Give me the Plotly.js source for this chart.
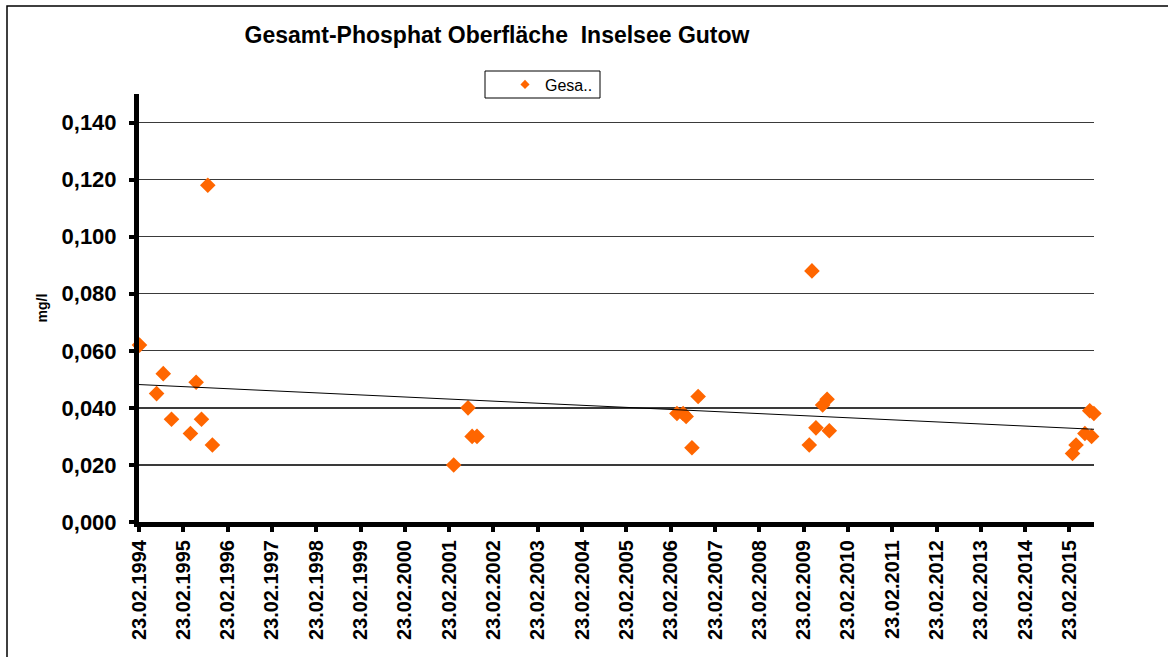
<!DOCTYPE html>
<html>
<head>
<meta charset="utf-8">
<script src="https://cdn.plot.ly/plotly-3.0.1.min.js"></script>
<style>
  html, body { margin: 0; padding: 0; background: #ffffff; }
  #chart { width: 1168px; height: 657px; }
</style>
</head>
<body>
<div id="chart"></div>
<script>
// ---- data ----
const sampleDates = [
  '1994-02-27','1994-07-18','1994-09-11','1994-11-18','1995-04-23','1995-06-09','1995-07-23','1995-09-13','1995-10-21',
  '2001-04-01','2001-07-28','2001-08-31','2001-10-10',
  '2006-04-15','2006-06-05','2006-06-30','2006-08-17','2006-10-07',
  '2009-04-10','2009-05-02','2009-06-04','2009-07-29','2009-09-04','2009-09-22',
  '2015-03-20','2015-04-18','2015-06-30','2015-08-09','2015-08-24','2015-09-12'
];
const phosphatValues = [
  0.062,0.045,0.052,0.036,0.031,0.049,0.036,0.118,0.027,
  0.020,0.040,0.030,0.030,
  0.038,0.038,0.037,0.026,0.044,
  0.027,0.088,0.033,0.041,0.043,0.032,
  0.024,0.027,0.031,0.039,0.030,0.038
];
const tickLabels = [
  '23.02.1994','23.02.1995','23.02.1996','23.02.1997','23.02.1998','23.02.1999','23.02.2000',
  '23.02.2001','23.02.2002','23.02.2003','23.02.2004','23.02.2005','23.02.2006','23.02.2007',
  '23.02.2008','23.02.2009','23.02.2010','23.02.2011','23.02.2012','23.02.2013','23.02.2014','23.02.2015'
];
const xRange = ['1994-02-23', '2015-09-13'];
const yRange = [0, 0.15];
const seriesName = 'Gesa..';
const chartTitle = 'Gesamt-Phosphat Oberfläche\u00A0 Inselsee Gutow';
const yTitle = 'mg/l';

// ---- derived ----
const tickVals = tickLabels.map(function (s) {
  const p = s.split('.');
  return p[2] + '-' + p[1] + '-' + p[0];
});

// linear trendline (least squares over time)
const xs = sampleDates.map(function (d) { return new Date(d + 'T00:00:00Z').getTime(); });
const n = xs.length;
const mx = xs.reduce(function (a, b) { return a + b; }, 0) / n;
const my = phosphatValues.reduce(function (a, b) { return a + b; }, 0) / n;
let sxy = 0, sxx = 0;
for (let i = 0; i < n; i++) { sxy += (xs[i] - mx) * (phosphatValues[i] - my); sxx += (xs[i] - mx) * (xs[i] - mx); }
const slope = sxy / sxx;
const icpt = my - slope * mx;
const trendX = xRange.map(function (d) { return new Date(d + 'T00:00:00Z').getTime(); });
const trendY = trendX.map(function (t) { return icpt + slope * t; });
const trendDates = trendX.map(function (t) { return new Date(t).toISOString().slice(0, 10); });

const FONT = 'Liberation Sans, Arial, Helvetica, sans-serif';

// plot-area pixel geometry helpers for paper coords
const L = 139, R = 1094, T = 94, B = 522;
function px(x) { return (x - L) / (R - L); }
function py(y) { return (B - y) / (B - T); }

const traces = [
  {
    type: 'scatter', mode: 'markers',
    x: sampleDates, y: phosphatValues,
    name: seriesName, showlegend: false,
    cliponaxis: false,
    marker: { symbol: 'diamond', size: 12, color: '#FF6600', line: { width: 0 } },
    hoverinfo: 'x+y'
  },
  {
    type: 'scatter', mode: 'lines',
    x: trendDates, y: trendY,
    showlegend: false, hoverinfo: 'skip',
    line: { color: '#000000', width: 1 }
  },
  {
    type: 'scatter', mode: 'markers',
    x: [null], y: [null],
    name: seriesName, showlegend: true,
    marker: { symbol: 'diamond', size: 7, color: '#FF6600', line: { width: 0 } }
  }
];

const layout = {
  width: 1168, height: 657,
  paper_bgcolor: '#ffffff', plot_bgcolor: '#ffffff',
  separators: ',.',
  font: { family: FONT, color: '#000000' },
  margin: { l: L, r: 1168 - R, t: T, b: 657 - B, pad: 0 },
  title: {
    text: chartTitle,
    font: { family: FONT, size: 23, color: '#000000', weight: 'bold' },
    x: 497 / 1168, xref: 'container', xanchor: 'center',
    y: 1 - 35 / 657, yref: 'container', yanchor: 'middle'
  },
  showlegend: true,
  legend: {
    x: px(505), xanchor: 'left',
    y: py(84.5), yanchor: 'middle',
    bgcolor: 'rgba(0,0,0,0)', borderwidth: 0,
    font: { family: FONT, size: 16, color: '#000000' }
  },
  xaxis: {
    type: 'date',
    range: xRange,
    tickmode: 'array', tickvals: tickVals, ticktext: tickLabels,
    tickangle: -90,
    tickfont: { family: FONT, size: 20, color: '#000000', weight: 'bold' },
    ticks: 'outside', ticklen: 5, tickwidth: 4, tickcolor: '#000000',
    ticklabelstandoff: 0,
    showline: true, linecolor: '#000000', linewidth: 5,
    showgrid: false, zeroline: false,
    fixedrange: true
  },
  yaxis: {
    range: yRange,
    tickmode: 'linear', tick0: 0, dtick: 0.02,
    tickformat: '.3f',
    tickfont: { family: FONT, size: 22, color: '#000000', weight: 'bold' },
    ticks: 'outside', ticklen: 5, tickwidth: 4, tickcolor: '#000000',
    ticklabelstandoff: 8,
    showline: true, linecolor: '#000000', linewidth: 5,
    showgrid: true, gridcolor: '#3a3a3a', gridwidth: 1.3,
    zeroline: false,
    title: { text: yTitle, font: { family: FONT, size: 14, color: '#000000', weight: 'bold' }, standoff: 12 },
    fixedrange: true
  },
  shapes: [
    { type: 'rect', xref: 'paper', yref: 'paper',
      x0: px(7), x1: px(1180), y0: py(670), y1: py(6),
      line: { color: '#000000', width: 1.5 }, fillcolor: 'rgba(0,0,0,0)', layer: 'below' },
    { type: 'rect', xref: 'paper', yref: 'paper',
      x0: px(485), x1: px(600), y0: py(98), y1: py(71),
      line: { color: '#000000', width: 1 }, fillcolor: 'rgba(0,0,0,0)' }
  ]
};

Plotly.newPlot('chart', traces, layout, { displayModeBar: false, staticPlot: true });
</script>
</body>
</html>
